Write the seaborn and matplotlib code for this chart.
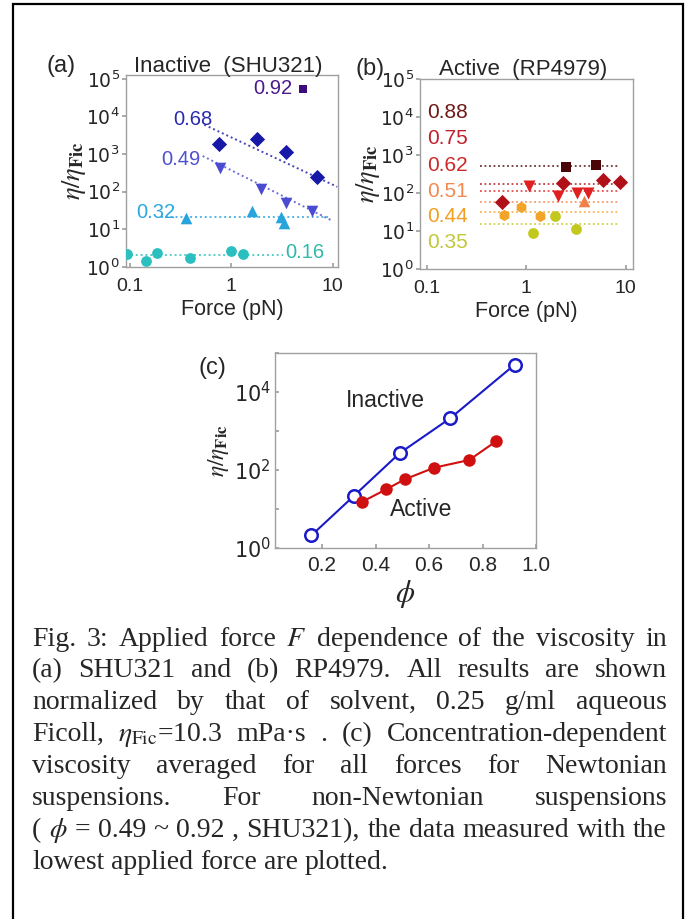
import matplotlib
matplotlib.use("Agg")
import matplotlib.pyplot as plt
import matplotlib.transforms as mtransforms
from matplotlib.patches import Rectangle
import seaborn as sns

# ---- données ----
# (a) Inactive (SHU321) : force (pN) et viscosité normalisée par fraction phi
force_a016 = [0.094, 0.145, 0.185, 0.39, 1.0, 1.29]
eta_a016 = [2.2, 1.4, 2.3, 1.7, 2.6, 2.2]
force_a032 = [0.356, 1.59, 3.07, 3.31]
eta_a032 = [19.5, 31, 21.5, 15]
force_a049 = [0.78, 1.96, 3.48, 6.3]
eta_a049 = [420, 120, 50, 31]
force_a068 = [0.75, 1.78, 3.48, 7.0]
eta_a068 = [1870, 2500, 1150, 250]
force_a092 = [5.07]
eta_a092 = [54000]

# droites d'ajustement (a) : extrémités
fit_a016_x, fit_a016_y = [0.09, 3.2], [2.05, 2.05]
fit_a032_x, fit_a032_y = [0.2, 8.9], [21.5, 21.5]
fit_a049_x, fit_a049_y = [0.52, 9.9], [890, 17]
fit_a068_x, fit_a068_y = [0.54, 11.1], [6000, 135]

# (b) Active (RP4979)
force_b035 = [1.17, 1.93, 3.18]
eta_b035 = [8.9, 25, 11.5]
force_b044 = [0.59, 0.89, 1.38]
eta_b044 = [27, 43, 25]
force_b051 = [3.8]
eta_b051 = [63]
force_b062 = [1.06, 2.08, 3.19, 4.17]
eta_b062 = [150, 82, 103, 100]
force_b075 = [0.57, 2.34, 5.9, 8.7]
eta_b075 = [59, 188, 220, 200]
force_b088 = [2.49, 4.99]
eta_b088 = [480, 550]
fit_b_x = [0.34, 8.4]
fit_b_level = {"0.35": 15.6, "0.44": 31, "0.51": 59, "0.62": 113, "0.75": 174, "0.88": 520}

# (c) viscosité moyenne vs phi
inactive_phi = [0.16, 0.32, 0.49, 0.68, 0.92]
inactive_eta = [2.1, 22, 270, 2140, 50000]
active_phi = [0.35, 0.44, 0.51, 0.62, 0.75, 0.85]
active_eta = [15.3, 32, 58, 115, 180, 540]

force_ticks = [0.1, 1, 10]
force_ticklabels = ["0.1", "1", "10"]
eta_ticks = [1, 10, 100, 1e3, 1e4, 1e5]
eta_ticklabels = [r"$10^{0}$", r"$10^{1}$", r"$10^{2}$", r"$10^{3}$", r"$10^{4}$", r"$10^{5}$"]
eta_ticklabels_c = [r"$10^{0}$", "", r"$10^{2}$", "", r"$10^{4}$", ""]
phi_ticks = [0.2, 0.4, 0.6, 0.8, 1.0]
phi_ticklabels = ["0.2", "0.4", "0.6", "0.8", "1.0"]

caption_lines = [
    "Fig. 3: Applied force $F$ dependence of the viscosity in",
    "(a) SHU321 and (b) RP4979. All results are shown",
    "normalized by that of solvent, 0.25 g/ml aqueous",
    r"Ficoll, $\eta_{\mathrm{Fic}}$=10.3 mPa·s . (c) Concentration-dependent",
    "viscosity averaged for all forces for Newtonian",
    "suspensions. For non-Newtonian suspensions",
    r"( $\phi$ = 0.49 ~ 0.92 , SHU321), the data measured with the",
    "lowest applied force are plotted.",
]

# ---- style ----
sns.set_theme(style="white")
plt.rcParams['font.family'] = ['Liberation Sans', 'DejaVu Sans']

fig = plt.figure(figsize=(6.94, 9.19), dpi=100)
ax_a = fig.add_axes([126 / 694, 1 - 267 / 919, 212 / 694, 192 / 919])
ax_b = fig.add_axes([420 / 694, 1 - 269 / 919, 213 / 694, 190 / 919])
ax_c = fig.add_axes([275 / 694, 1 - 548 / 919, 261 / 694, 195 / 919])

ylab = r"$\eta/\eta_{\mathbf{Fic}}$"


def style_force_axes(ax, xlim, ytop):
    ax.set_xscale("log")
    ax.set_yscale("log")
    ax.set_xlim(*xlim)
    ax.set_ylim(1, ytop)
    ax.set_xticks(force_ticks, force_ticklabels)
    ax.set_yticks(eta_ticks, eta_ticklabels)
    ax.minorticks_off()
    for s in ax.spines.values():
        s.set_color("#a0a0a0")
        s.set_linewidth(1.0)
    ax.tick_params(axis="x", bottom=True, direction="in", length=3, color="#a0a0a0",
                   labelsize=14, pad=8)
    ax.tick_params(axis="y", left=True, direction="out", length=3, color="#a0a0a0",
                   labelsize=13.5, pad=1.5)
    ax.set_xlabel("Force (pN)", fontsize=15.5, labelpad=3)


# ---- (a) ----
style_force_axes(ax_a, (0.091, 11.3), 1.26e5)
series_a = [
    ("0.16", force_a016, eta_a016, "o", 60, "#2bbfbf", fit_a016_x, fit_a016_y),
    ("0.32", force_a032, eta_a032, "^", 70, "#27a4dc", fit_a032_x, fit_a032_y),
    ("0.49", force_a049, eta_a049, "v", 70, "#4b4bd2", fit_a049_x, fit_a049_y),
    ("0.68", force_a068, eta_a068, "D", 60, "#1818a8", fit_a068_x, fit_a068_y),
    ("0.92", force_a092, eta_a092, "s", 40, "#3c0c7c", None, None),
]
for phi, fx, ey, mk, sz, col, lx, ly in series_a:
    if lx is not None:
        sns.lineplot(x=lx, y=ly, ax=ax_a, color=col, linestyle=(0, (1, 1.5)),
                     linewidth=1.4, alpha=0.8)
    sns.scatterplot(x=fx, y=ey, ax=ax_a, marker=mk, s=sz, color=col,
                    linewidth=0, legend=False, zorder=3)

lab_a = [("0.92", 4.0, 54000, "right", "#4a1a8a"), ("0.68", 0.65, 8100, "right", "#2a2ab0"),
         ("0.49", 0.49, 700, "right", "#5050d0"), ("0.32", 0.116, 28, "left", "#2aa8e0"),
         ("0.16", 3.4, 2.5, "left", "#30b8a8")]
for t, x, y, ha, c in lab_a:
    ax_a.text(x, y, t, color=c, fontsize=14.5, ha=ha, va="center")
ax_a.set_ylabel(ylab, fontsize=19, math_fontfamily="stix")
ax_a.yaxis.set_label_coords(-0.18, 0.5)
ax_a.text(0.48, 1.045, "Inactive  (SHU321)", transform=ax_a.transAxes, fontsize=16,
          ha="center", va="center")
ax_a.text(-0.305, 1.045, "(a)", transform=ax_a.transAxes, fontsize=17, ha="center", va="center")

# ---- (b) ----
style_force_axes(ax_b, (0.085, 11.8), 1e5)
series_b = [
    ("0.35", force_b035, eta_b035, "o", 60, "#c2c81e", "#c0c838"),
    ("0.44", force_b044, eta_b044, "h", 65, "#f2a428", "#f0a020"),
    ("0.51", force_b051, eta_b051, "^", 70, "#f08048", "#f08a50"),
    ("0.62", force_b062, eta_b062, "v", 75, "#e02020", "#cc2a2a"),
    ("0.75", force_b075, eta_b075, "D", 60, "#b01018", "#c0202c"),
    ("0.88", force_b088, eta_b088, "s", 60, "#4a0606", "#6e1818"),
]
lab_b_y = {"0.88": 13000, "0.75": 2650, "0.62": 520, "0.51": 109, "0.44": 23.5, "0.35": 5.1}
for phi, fx, ey, mk, sz, col, tcol in series_b:
    lvl = fit_b_level[phi]
    sns.lineplot(x=fit_b_x, y=[lvl, lvl], ax=ax_b, color=col, linestyle=(0, (1, 1.5)),
                 linewidth=1.3, alpha=0.8)
    sns.scatterplot(x=fx, y=ey, ax=ax_b, marker=mk, s=sz, color=col,
                    linewidth=0, legend=False, zorder=3)
    ax_b.text(0.1, lab_b_y[phi], phi, color=tcol, fontsize=15, ha="left", va="center")
ax_b.set_ylabel(ylab, fontsize=19, math_fontfamily="stix")
ax_b.yaxis.set_label_coords(-0.18, 0.5)
ax_b.text(0.484, 1.05, "Active  (RP4979)", transform=ax_b.transAxes, fontsize=16,
          ha="center", va="center")
ax_b.text(-0.235, 1.05, "(b)", transform=ax_b.transAxes, fontsize=17, ha="center", va="center")

# ---- (c) ----
ax_c.set_yscale("log")
ax_c.set_xlim(0.024, 0.986)
ax_c.set_ylim(1, 1e5)
sns.lineplot(x=inactive_phi, y=inactive_eta, ax=ax_c, color="#1a1ac8", linewidth=1.5,
             marker="o", markersize=9, markerfacecolor="white", markeredgecolor="#1a1ac8",
             markeredgewidth=1.8)
sns.lineplot(x=active_phi, y=active_eta, ax=ax_c, color="#d01010", linewidth=1.5,
             marker="o", markersize=9, markeredgewidth=0)
ax_c.set_xticks(phi_ticks, phi_ticklabels)
ax_c.set_yticks(eta_ticks, eta_ticklabels_c)
ax_c.minorticks_off()
for s in ax_c.spines.values():
    s.set_color("#a0a0a0")
    s.set_linewidth(1.0)
ax_c.tick_params(axis="both", bottom=True, left=True, direction="in", length=3,
                 color="#a0a0a0", labelsize=15)
ax_c.tick_params(axis="x", pad=6)
ax_c.tick_params(axis="y", pad=3)
ax_c.set_xlabel(r"$\phi$", fontsize=22, math_fontfamily="stix", labelpad=2)
ax_c.set_ylabel(ylab, fontsize=17, math_fontfamily="stix")
ax_c.yaxis.set_label_coords(-0.17, 0.5)
ax_c.text(0.437, 5900, "Inactive", fontsize=16.5, ha="center", va="center")
ax_c.text(0.571, 9.6, "Active", fontsize=16.5, ha="center", va="center")
ax_c.text(-0.24, 0.923, "(c)", transform=ax_c.transAxes, fontsize=17, ha="center", va="center")

# ---- légende (texte justifié) ----
renderer = fig.canvas.get_renderer()
ident = mtransforms.IdentityTransform()
x_left, x_right = 32, 667
cap_size = 20
space_px = 0.25 * cap_size * 100 / 72
for i, line in enumerate(caption_lines):
    y_px = 919 - (645.5 + 31.9 * i)
    words = line.split(" ")
    arts = [fig.text(0, y_px, w, transform=ident, ha="left", va="baseline",
                     fontsize=cap_size, family=["Liberation Serif", "DejaVu Serif"],
                     math_fontfamily="stix") for w in words]
    widths = [a.get_window_extent(renderer).width for a in arts]
    if i == len(caption_lines) - 1:
        gap = space_px
    else:
        gap = (x_right - x_left - sum(widths)) / (len(words) - 1)
    x = x_left
    for a, w in zip(arts, widths):
        a.set_x(x)
        x += w + gap

# cadre extérieur
fig.add_artist(Rectangle((13 / 694, -0.02), 670 / 694, 1.02 - 4 / 919, transform=fig.transFigure,
                         fill=False, edgecolor="black", linewidth=1.6, clip_on=False))

fig.savefig("out.png", dpi=100)
plt.close(fig)
